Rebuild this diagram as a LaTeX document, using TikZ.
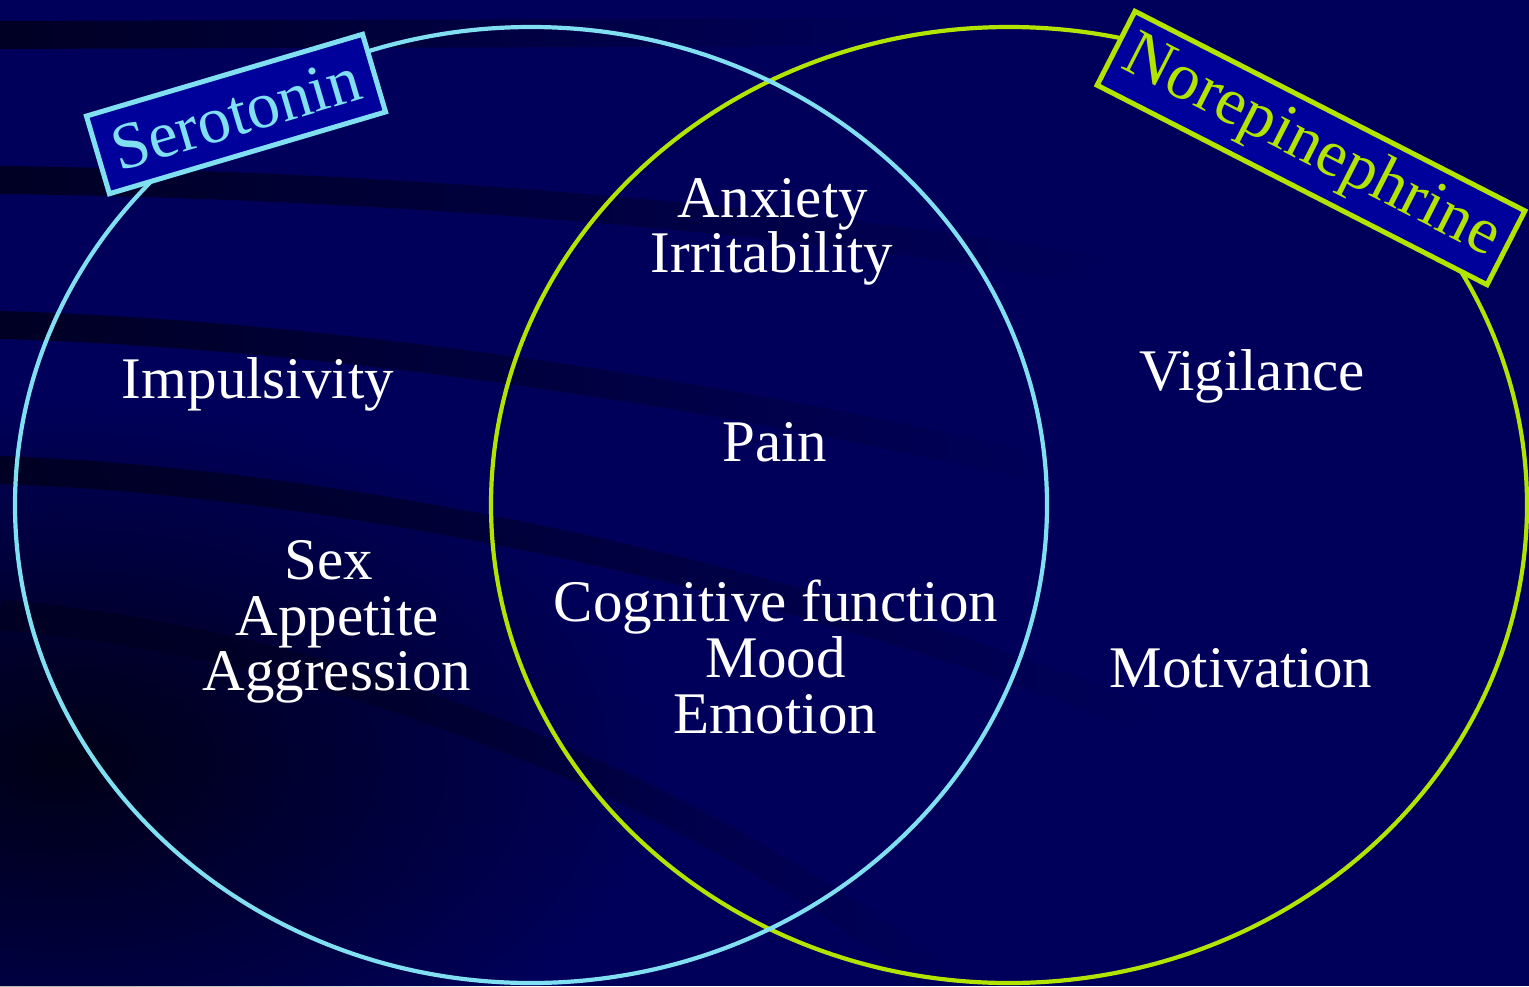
\documentclass[tikz,border=0pt]{standalone}
\usepackage{fontspec}
\setmainfont{Liberation Serif}
\usetikzlibrary{fadings}
\tikzfading[name=myfadeout, inner color=transparent!0, outer color=transparent!100]
\tikzfading[name=myfaderight, left color=transparent!0, right color=transparent!100]
\definecolor{bg}{RGB}{0,0,90}
\definecolor{band}{RGB}{0,0,36}
\definecolor{boxfill}{RGB}{0,0,155}
\definecolor{sero}{RGB}{128,224,242}
\definecolor{nore}{RGB}{178,228,0}
\begin{document}
\begin{tikzpicture}[x=0.5pt,y=-0.5pt,
  bandline/.style={draw=band, line width=14pt, path fading=myfaderight},
  ring/.style={line width=2.1pt},
  body/.style={text=white, font=\fontsize{29.5}{27.7}\selectfont, inner sep=0pt, anchor=base},
  tag/.style={fill=boxfill, line width=2.5pt, inner sep=0pt,
    font=\fontsize{33}{36}\selectfont}]
% background
\fill[bg] (0,0) rectangle (1529,986);
\useasboundingbox (0,0) rectangle (1529,986);
\begin{scope}
\clip (0,0) rectangle (1529,986);
\fill[black, opacity=0.75, path fading=myfadeout] (60,760) ellipse [x radius=600, y radius=360];
\draw[bandline] (0,35) -- (900,32);
\draw[bandline] (0,180) .. controls (400,185) and (800,220) .. (1100,270);
\draw[bandline] (0,325) .. controls (350,335) and (750,400) .. (1050,470);
\draw[bandline] (0,470) .. controls (300,480) and (750,560) .. (1150,720);
\draw[bandline, line width=15pt] (0,615) .. controls (300,640) and (650,760) .. (950,986);
\end{scope}
% circles
\draw[nore, ring] (1009,505) ellipse [x radius=518, y radius=478];
\draw[sero, ring] (531,505) ellipse [x radius=516, y radius=478];
% labels
\node[tag, draw=sero, text=sero, minimum width=144pt, minimum height=40.5pt, rotate=16.5] (sero) at (236,114) {Serotonin};
\node[tag, draw=nore, text=nore, minimum width=219pt, minimum height=41.5pt, rotate=-27.1] (nore) at (1311,148) {Norepinephrine};
% texts
\node[body] (anx) at (773,217) {Anxiety};
\node[body] (irr) at (772,272) {Irritability};
\node[body] (imp) at (258,398) {Impulsivity};
\node[body] (pain) at (775,461) {Pain};
\node[body] (sex) at (329,579) {Sex};
\node[body] (app) at (337,635) {Appetite};
\node[body] (agg) at (337,690) {Aggression};
\node[body] (cog) at (776,621) {Cognitive function};
\node[body] (mood) at (775.5,677) {Mood};
\node[body] (emo) at (775.5,733) {Emotion};
\node[body] (vig) at (1252,390) {Vigilance};
\node[body] (mot) at (1241,687) {Motivation};
\end{tikzpicture}
\end{document}
